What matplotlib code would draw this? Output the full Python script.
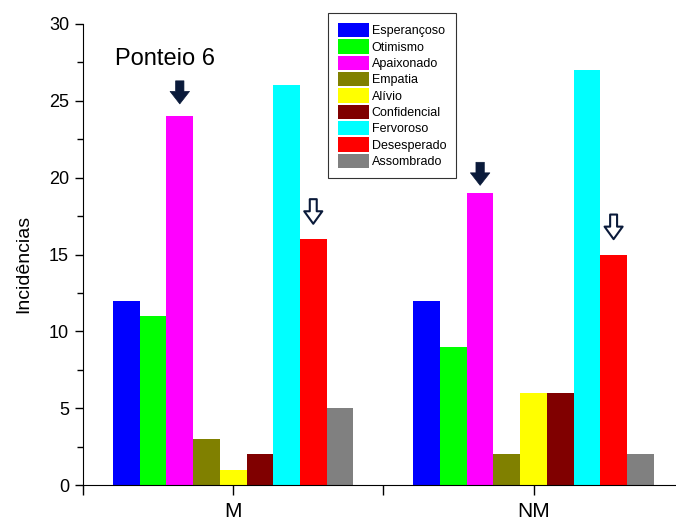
import matplotlib
matplotlib.use("Agg")
import matplotlib.pyplot as plt
import numpy as np

plt.rcParams['font.family'] = ['Liberation Sans', 'DejaVu Sans']

groups = ["M", "NM"]
emotions = ["Esperançoso", "Otimismo", "Apaixonado", "Empatia", "Alívio",
            "Confidencial", "Fervoroso", "Desesperado", "Assombrado"]
values_M = [12, 11, 24, 3, 1, 2, 26, 16, 5]
values_NM = [12, 9, 19, 2, 6, 6, 27, 15, 2]
colors = ["#0000ff", "#00ff00", "#ff00ff", "#808000", "#ffff00",
          "#800000", "#00ffff", "#ff0000", "#808080"]

fig = plt.figure(figsize=(6.76, 5.26), dpi=100)
ax = fig.add_axes([83/676, 1-485/526, 1-83/676 + 0.001, (485-24)/526])

x = np.array([1, 2])
n = len(emotions)
w = 0.8 / n
data = np.array([values_M, values_NM])
for i in range(n):
    ax.bar(x + (i - (n - 1) / 2) * w, data[:, i], width=w, color=colors[i],
           label=emotions[i], edgecolor='none')

ax.set_xlim(0.5, 0.5 + (676 - 83) / 300)
ax.set_ylim(0, 30)
ax.spines['top'].set_visible(False)
ax.spines['right'].set_visible(False)
ax.spines['left'].set_bounds(0, 30)
ax.set_yticks([0, 5, 10, 15, 20, 25, 30])
ax.set_yticks(np.arange(0, 30.1, 2.5), minor=True)
ax.set_xticks(x)
ax.set_xticklabels(groups, fontsize=15)
ax.set_xticks([0.5, 1.5], minor=True)
ax.tick_params(axis='y', direction='out', length=6, width=1, labelsize=13, pad=4)
ax.tick_params(axis='y', which='minor', direction='out', length=4, width=1)
ax.tick_params(axis='x', direction='out', length=7, width=1, pad=5)
ax.tick_params(axis='x', which='minor', direction='out', length=7, width=1)
ax.set_ylabel("Incidências", fontsize=14)
ax.yaxis.set_label_coords(-0.086, 0.48)

ax.text(1 - 0.395, 27.75, "Ponteio 6", fontsize=17, ha='left', va='center')

navy = "#0a1a3a"
# filled arrows above Apaixonado bars
for gi, (lo, hi) in enumerate([(0.8, 2.3), (0.5, 2.0)]):
    xp = x[gi] + (2 - (n - 1) / 2) * w
    v = data[gi, 2]
    ax.annotate('', xy=(xp, v + lo), xytext=(xp, v + hi),
                arrowprops=dict(arrowstyle='simple,head_width=1.4,head_length=0.9,tail_width=0.6',
                                fc=navy, ec=navy, lw=0.5, shrinkA=0, shrinkB=0),
                annotation_clip=False)
# hollow arrows above Desesperado bars
for gi in range(2):
    xp = x[gi] + (7 - (n - 1) / 2) * w
    v = data[gi, 7]
    ax.annotate('', xy=(xp, v + 1.0), xytext=(xp, v + 2.6),
                arrowprops=dict(arrowstyle='simple,head_width=1.3,head_length=0.9,tail_width=0.5',
                                fc='white', ec=navy, lw=1.5, shrinkA=0, shrinkB=0),
                annotation_clip=False)

leg = fig.legend(loc='upper left', bbox_to_anchor=(328/676, 1 - 13/526),
                 fontsize=9, frameon=True, fancybox=False, edgecolor='black',
                 handlelength=2.5, handleheight=1.4, handletextpad=0.2,
                 labelspacing=0.15, borderpad=0.8, borderaxespad=0)
leg.get_frame().set_linewidth(0.8)

fig.savefig("out.png", dpi=100)
